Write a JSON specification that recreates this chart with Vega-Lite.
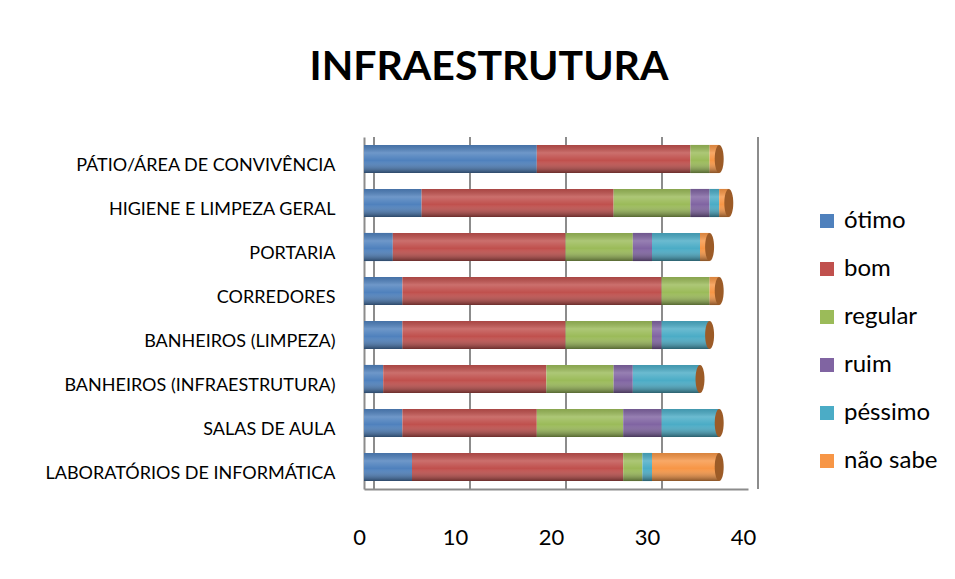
{
  "$schema": "https://vega.github.io/schema/vega-lite/v6.json",
  "width": 384,
  "height": 352,
  "autosize": {"type": "none"},
  "padding": {"left": 364, "top": 137, "right": 207, "bottom": 90},
  "background": "white",
  "title": {
    "text": "INFRAESTRUTURA",
    "font": "Lato",
    "fontSize": 41,
    "fontWeight": "bold",
    "color": "black",
    "anchor": "middle",
    "baseline": "alphabetic",
    "dx": -67,
    "offset": 15
  },
  "data": {
    "values": [
      {"cat": "PÁTIO/ÁREA DE CONVIVÊNCIA", "resp": "ótimo", "k": 1, "v": 18},
      {"cat": "PÁTIO/ÁREA DE CONVIVÊNCIA", "resp": "bom", "k": 2, "v": 16},
      {"cat": "PÁTIO/ÁREA DE CONVIVÊNCIA", "resp": "regular", "k": 3, "v": 2},
      {"cat": "PÁTIO/ÁREA DE CONVIVÊNCIA", "resp": "ruim", "k": 4, "v": 0},
      {"cat": "PÁTIO/ÁREA DE CONVIVÊNCIA", "resp": "péssimo", "k": 5, "v": 0},
      {"cat": "PÁTIO/ÁREA DE CONVIVÊNCIA", "resp": "não sabe", "k": 6, "v": 1},
      {"cat": "HIGIENE E LIMPEZA GERAL", "resp": "ótimo", "k": 1, "v": 6},
      {"cat": "HIGIENE E LIMPEZA GERAL", "resp": "bom", "k": 2, "v": 20},
      {"cat": "HIGIENE E LIMPEZA GERAL", "resp": "regular", "k": 3, "v": 8},
      {"cat": "HIGIENE E LIMPEZA GERAL", "resp": "ruim", "k": 4, "v": 2},
      {"cat": "HIGIENE E LIMPEZA GERAL", "resp": "péssimo", "k": 5, "v": 1},
      {"cat": "HIGIENE E LIMPEZA GERAL", "resp": "não sabe", "k": 6, "v": 1},
      {"cat": "PORTARIA", "resp": "ótimo", "k": 1, "v": 3},
      {"cat": "PORTARIA", "resp": "bom", "k": 2, "v": 18},
      {"cat": "PORTARIA", "resp": "regular", "k": 3, "v": 7},
      {"cat": "PORTARIA", "resp": "ruim", "k": 4, "v": 2},
      {"cat": "PORTARIA", "resp": "péssimo", "k": 5, "v": 5},
      {"cat": "PORTARIA", "resp": "não sabe", "k": 6, "v": 1},
      {"cat": "CORREDORES", "resp": "ótimo", "k": 1, "v": 4},
      {"cat": "CORREDORES", "resp": "bom", "k": 2, "v": 27},
      {"cat": "CORREDORES", "resp": "regular", "k": 3, "v": 5},
      {"cat": "CORREDORES", "resp": "ruim", "k": 4, "v": 0},
      {"cat": "CORREDORES", "resp": "péssimo", "k": 5, "v": 0},
      {"cat": "CORREDORES", "resp": "não sabe", "k": 6, "v": 1},
      {"cat": "BANHEIROS (LIMPEZA)", "resp": "ótimo", "k": 1, "v": 4},
      {"cat": "BANHEIROS (LIMPEZA)", "resp": "bom", "k": 2, "v": 17},
      {"cat": "BANHEIROS (LIMPEZA)", "resp": "regular", "k": 3, "v": 9},
      {"cat": "BANHEIROS (LIMPEZA)", "resp": "ruim", "k": 4, "v": 1},
      {"cat": "BANHEIROS (LIMPEZA)", "resp": "péssimo", "k": 5, "v": 5},
      {"cat": "BANHEIROS (LIMPEZA)", "resp": "não sabe", "k": 6, "v": 0},
      {"cat": "BANHEIROS (INFRAESTRUTURA)", "resp": "ótimo", "k": 1, "v": 2},
      {"cat": "BANHEIROS (INFRAESTRUTURA)", "resp": "bom", "k": 2, "v": 17},
      {"cat": "BANHEIROS (INFRAESTRUTURA)", "resp": "regular", "k": 3, "v": 7},
      {"cat": "BANHEIROS (INFRAESTRUTURA)", "resp": "ruim", "k": 4, "v": 2},
      {"cat": "BANHEIROS (INFRAESTRUTURA)", "resp": "péssimo", "k": 5, "v": 7},
      {"cat": "BANHEIROS (INFRAESTRUTURA)", "resp": "não sabe", "k": 6, "v": 0},
      {"cat": "SALAS DE AULA", "resp": "ótimo", "k": 1, "v": 4},
      {"cat": "SALAS DE AULA", "resp": "bom", "k": 2, "v": 14},
      {"cat": "SALAS DE AULA", "resp": "regular", "k": 3, "v": 9},
      {"cat": "SALAS DE AULA", "resp": "ruim", "k": 4, "v": 4},
      {"cat": "SALAS DE AULA", "resp": "péssimo", "k": 5, "v": 6},
      {"cat": "SALAS DE AULA", "resp": "não sabe", "k": 6, "v": 0},
      {"cat": "LABORATÓRIOS DE INFORMÁTICA", "resp": "ótimo", "k": 1, "v": 5},
      {"cat": "LABORATÓRIOS DE INFORMÁTICA", "resp": "bom", "k": 2, "v": 22},
      {"cat": "LABORATÓRIOS DE INFORMÁTICA", "resp": "regular", "k": 3, "v": 2},
      {"cat": "LABORATÓRIOS DE INFORMÁTICA", "resp": "ruim", "k": 4, "v": 0},
      {"cat": "LABORATÓRIOS DE INFORMÁTICA", "resp": "péssimo", "k": 5, "v": 1},
      {"cat": "LABORATÓRIOS DE INFORMÁTICA", "resp": "não sabe", "k": 6, "v": 7}
    ]
  },
  "encoding": {
    "y": {
      "field": "cat",
      "type": "nominal",
      "sort": null,
      "title": null,
      "scale": {"paddingInner": 0.36, "paddingOuter": 0.18},
      "axis": {
        "labelFont": "Lato",
        "labelFontSize": 18,
        "labelColor": "black",
        "labelPadding": 29,
        "labelOffset": 7,
        "labelLimit": 400,
        "ticks": false,
        "domain": true,
        "domainColor": "#8c8c8c",
        "domainWidth": 2
      }
    }
  },
  "layer": [
    {
      "data": {"values": [{"g": 0}, {"g": 10}, {"g": 20}, {"g": 30}, {"g": 40}]},
      "mark": {"type": "rule", "color": "#8c8c8c", "strokeWidth": 2, "xOffset": 10},
      "encoding": {
        "x": {"field": "g", "type": "quantitative"},
        "y": null
      }
    },
    {
      "mark": {"type": "bar", "strokeWidth": 0},
      "encoding": {
        "x": {
          "field": "v",
          "type": "quantitative",
          "stack": "zero",
          "title": null,
          "scale": {"domain": [0, 40], "nice": false},
          "axis": {
            "values": [0, 10, 20, 30, 40],
            "labelFont": "Lato",
            "labelFontSize": 22,
            "labelColor": "black",
            "labelPadding": 38,
            "labelOffset": -5,
            "labelFlush": false,
            "ticks": false,
            "domainColor": "#8c8c8c",
            "domainWidth": 2,
            "grid": false
          }
        },
        "color": {
          "field": "resp",
          "type": "nominal",
          "sort": ["ótimo", "bom", "regular", "ruim", "péssimo", "não sabe"],
          "scale": {
            "domain": ["ótimo", "bom", "regular", "ruim", "péssimo", "não sabe"],
            "range": ["#4F81BD", "#C0504D", "#9BBB59", "#8064A2", "#4BACC6", "#F79646"]
          },
          "legend": {
            "title": null,
            "orient": "none",
            "legendX": 451,
            "legendY": 72,
            "padding": 0,
            "symbolType": "square",
            "symbolSize": 196,
            "symbolStrokeWidth": 0,
            "labelFont": "Lato",
            "labelFontSize": 24,
            "labelColor": "black",
            "labelOffset": 5,
            "rowPadding": 24
          }
        },
        "order": {"field": "k", "type": "quantitative"}
      }
    },
    {
      "mark": {
        "type": "bar",
        "strokeWidth": 0,
        "color": {
          "gradient": "linear",
          "x1": 0, "y1": 0, "x2": 0, "y2": 1,
          "stops": [
            {"offset": 0, "color": "rgba(0,0,0,0.12)"},
            {"offset": 0.28, "color": "rgba(255,255,255,0.18)"},
            {"offset": 0.55, "color": "rgba(255,255,255,0)"},
            {"offset": 1, "color": "rgba(0,0,0,0.45)"}
          ]
        }
      },
      "encoding": {
        "x": {"aggregate": "sum", "field": "v", "type": "quantitative"}
      }
    },
    {
      "mark": {
        "type": "point",
        "shape": "M0,-1A0.32,1,0,1,1,0,1A0.32,1,0,1,1,0,-1Z",
        "filled": true,
        "size": 784,
        "color": "#9C5B27",
        "opacity": 1,
        "strokeWidth": 0
      },
      "encoding": {
        "x": {"aggregate": "sum", "field": "v", "type": "quantitative"}
      }
    }
  ],
  "config": {
    "view": {"stroke": null}
  }
}
